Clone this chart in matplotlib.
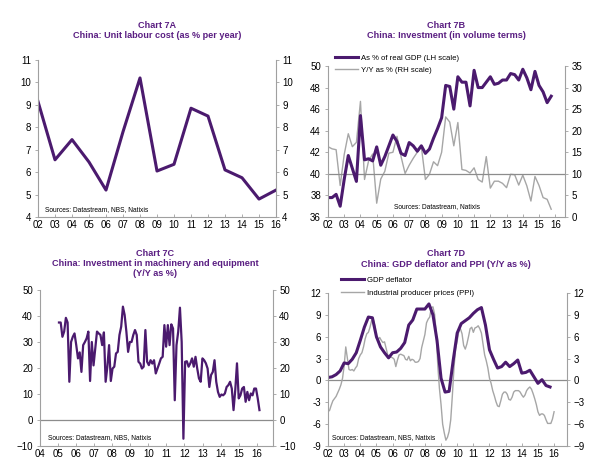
import numpy as np
import matplotlib
matplotlib.use("Agg")
import matplotlib.pyplot as plt

plt.rcParams['font.family'] = ['Liberation Sans', 'DejaVu Sans']

PURPLE = '#4b1a6e'
TITLE_COL = '#5a1e82'
GREY = '#a6a6a6'
SPINE = '#a0a0a0'

# ---------------- data ----------------
# Chart 7A: unit labour cost, annual
ulc_years = list(range(2002, 2017))
ulc_values = [9.15, 6.55, 7.45, 6.45, 5.2, 7.8, 10.2, 6.05, 6.35, 8.85, 8.5, 6.1, 5.75, 4.8, 5.2]

# Chart 7B: investment, quarterly from 2002Q1
inv_start = 2002.0
inv_gdp_share = [37.8, 37.8, 38.1, 37.0, 39.5, 41.7, 40.5, 39.3, 45.4, 41.3, 41.4, 41.2,
                 42.5, 40.8, 41.6, 42.6, 43.6, 43.0, 41.9, 41.7, 42.9, 42.6, 42.1, 42.6,
                 41.9, 42.3, 43.3, 44.2, 45.2, 48.2, 48.1, 46.0, 49.0, 48.5, 48.5, 46.3,
                 49.6, 48.0, 48.0, 48.5, 49.0, 48.3, 48.4, 48.7, 48.7, 49.3, 49.2, 48.7,
                 49.7, 48.9, 47.8, 49.5, 48.2, 47.6, 46.6, 47.2]
inv_yoy = [16.3, 15.8, 15.6, 7.3, 14.5, 19.3, 16.3, 17.3, 26.8, 8.7, 13.0, 14.6,
           3.2, 8.8, 10.6, 14.8, 15.0, 18.7, 14.0, 10.1, 12.0, 13.6, 15.0, 16.3,
           8.7, 9.9, 12.8, 11.9, 15.0, 23.2, 22.0, 16.5, 21.9, 11.0, 10.8, 10.2,
           11.4, 8.7, 8.1, 14.0, 6.7, 8.3, 8.3, 7.8, 6.8, 9.9, 9.8, 7.4,
           9.7, 7.2, 3.7, 9.4, 7.3, 4.5, 4.1, 1.8]

# Chart 7C: investment in machinery and equipment, Y/Y %
mach_first, mach_last = 2005.05, 2016.15
mach_yoy = [37.5, 37.5, 32.0, 34.0, 39.3, 37.5, 14.7, 30.0, 32.0, 33.3, 28.8, 23.7,
            26.0, 18.5, 28.8, 30.0, 31.4, 34.0, 15.0, 30.0, 21.0, 27.5, 34.0, 33.3,
            32.7, 28.8, 33.7, 14.7, 20.5, 28.8, 15.0, 19.8, 20.5, 25.6, 26.2, 32.7,
            35.9, 43.6, 40.4, 34.0, 26.2, 30.0, 30.0, 32.7, 34.6, 32.7, 22.4, 21.7,
            19.8, 20.5, 34.6, 22.4, 21.1, 23.0, 21.7, 23.0, 17.9, 19.8, 21.7, 23.7,
            24.3, 36.5, 28.2, 36.5, 28.8, 36.8, 35.2, 7.6, 28.8, 34.0, 43.2, 30.0,
            -7.2, 22.4, 22.6, 20.5, 21.8, 23.7, 20.5, 24.3, 19.8, 16.0, 14.7, 23.7,
            23.0, 21.8, 19.8, 12.7, 17.3, 18.5, 23.0, 14.7, 10.8, 8.9, 9.8, 9.5,
            10.2, 12.7, 13.4, 14.7, 12.1, 3.8, 11.5, 21.8, 8.3, 9.5, 12.1, 12.7,
            7.0, 10.8, 7.6, 10.2, 9.5, 12.1, 12.1, 8.3, 3.8]

# Chart 7D: GDP deflator (quarterly from 2002Q1) and PPI (from 2002 to 2016)
deflator = [0.4, 0.5, 0.8, 1.3, 2.4, 2.3, 2.9, 3.8, 5.5, 7.3, 8.7, 8.6,
            6.0, 4.6, 3.8, 3.1, 3.8, 3.9, 4.4, 5.2, 7.6, 8.3, 9.8, 9.8,
            9.8, 10.5, 9.0, 5.5, 0.3, -1.6, -1.5, 2.7, 6.5, 7.8, 8.2, 8.6,
            9.2, 9.7, 10.0, 7.6, 4.2, 2.9, 1.7, 1.9, 2.5, 1.9, 2.3, 2.8,
            1.0, 1.1, 1.4, 0.5, -0.4, 0.1, -0.7, -0.9]
ppi_first, ppi_last = 2002.0, 2016.0
ppi = [-4.3, -4.1, -3.4, -2.8, -2.5, -2.2, -1.7, -1.2, -0.6, 0.3,
       2.0, 4.6, 3.0, 1.5, 1.4, 1.5, 1.3, 1.7, 2.0, 3.0,
       3.5, 3.8, 4.6, 5.7, 6.4, 6.6, 7.3, 8.2, 8.4, 7.5,
       5.8, 5.6, 5.9, 5.5, 5.2, 5.3, 4.4, 3.5, 3.2, 3.2,
       3.1, 2.9, 1.9, 2.8, 3.5, 3.6, 3.5, 3.4, 2.9, 2.8,
       3.3, 2.7, 2.9, 2.8, 2.5, 2.5, 2.6, 3.0, 4.5, 5.4,
       6.3, 7.9, 8.4, 8.7, 10.0, 10.1, 9.1, 6.6, 2.0, -1.1,
       -3.3, -6.0, -7.2, -8.2, -7.8, -7.0, -5.4, -2.1, 1.7, 4.3,
       5.4, 6.8, 7.1, 6.4, 4.8, 4.3, 5.0, 6.0, 7.1, 7.3,
       6.6, 7.2, 7.3, 7.5, 7.1, 6.5, 5.0, 3.5, 2.7, 1.7,
       0.3, -0.4, -1.4, -2.1, -2.9, -3.5, -3.6, -2.8, -1.9, -1.6,
       -1.6, -1.9, -2.6, -2.7, -2.3, -1.6, -1.4, -1.4, -1.4, -1.6,
       -2.0, -2.3, -2.0, -1.4, -1.1, -0.9, -1.2, -1.8, -2.5, -3.3,
       -4.3, -4.8, -4.6, -4.6, -4.8, -5.4, -5.9, -5.9, -5.9, -5.3,
       -4.3]

W, H = 600, 471
TICK_FS = 7


def px_axes(fig, left, right, top, bottom):
    return fig.add_axes([left / W, 1 - bottom / H, (right - left) / W, (bottom - top) / H])


def style(ax, years, ylim, ystep, xlim):
    ax.set_xlim(*xlim)
    ax.set_ylim(*ylim)
    ax.set_xticks(years)
    ax.set_xticklabels(['%02d' % (y % 100) for y in years])
    ax.set_yticks(np.arange(ylim[0], ylim[1] + ystep / 2, ystep))
    ax.spines['top'].set_visible(False)
    ax.spines['right'].set_visible(False)
    for s in ('left', 'bottom'):
        ax.spines[s].set_color(SPINE)
        ax.spines[s].set_linewidth(0.8)
    ax.tick_params(axis='both', labelsize=TICK_FS, length=2.5, width=0.6, color=SPINE, pad=2.5)
    ax.tick_params(axis='x', direction='in')
    ax.tick_params(axis='y', direction='out')


def twin(ax, ylim, ystep):
    ax2 = ax.twinx()
    ax2.set_ylim(*ylim)
    ax2.set_yticks(np.arange(ylim[0], ylim[1] + ystep / 2, ystep))
    for s in ('top', 'left', 'bottom'):
        ax2.spines[s].set_visible(False)
    ax2.spines['right'].set_color(SPINE)
    ax2.spines['right'].set_linewidth(0.8)
    ax2.tick_params(axis='y', labelsize=TICK_FS, length=2.5, width=0.6, color=SPINE, pad=2, direction='out')
    return ax2


def title(fig, cx, y, lines):
    for i, t in enumerate(lines):
        fig.text(cx / W, 1 - (y + i * 10.5) / H, t, ha='center', va='center',
                 fontsize=6.6, fontweight='bold', color=TITLE_COL)


def source(fig, x, y, t):
    fig.text(x / W, 1 - y / H, t, ha='left', va='center', fontsize=4.8, color='black')


fig = plt.figure(figsize=(6.0, 4.71), dpi=100)

# ---- Chart 7A ----
ax = px_axes(fig, 38, 276, 60, 217)
style(ax, ulc_years, (4, 11), 1, (2002, 2016))
ax.plot(ulc_years, ulc_values, color=PURPLE, lw=2.2)
twin(ax, (4, 11), 1)
title(fig, 157, 25, ['Chart 7A', 'China: Unit labour cost (as % per year)'])
source(fig, 45, 210, 'Sources: Datastream, NBS, Natixis')

# ---- Chart 7B ----
ax = px_axes(fig, 328, 565, 66, 217)
style(ax, list(range(2002, 2017)), (36, 50), 2, (2002, 2016.6))
xq = inv_start + np.arange(len(inv_gdp_share)) / 4
ax.axhline(40, color='#8c8c8c', lw=0.9, zorder=1)
ax2 = twin(ax, (0, 35), 5)
g, = ax2.plot(xq, inv_yoy, color=GREY, lw=1.0)
ax.set_zorder(ax2.get_zorder() + 1)
ax.patch.set_visible(False)
p, = ax.plot(xq, inv_gdp_share, color=PURPLE, lw=2.2)
ax.legend([p, g], ['As % of real GDP (LH scale)', 'Y/Y as % (RH scale)'],
          loc='upper left', bbox_to_anchor=(0.01, 1.11), frameon=False, fontsize=5.6,
          handlelength=3.0, handletextpad=0.35, labelspacing=0.6, borderaxespad=0.2)
title(fig, 446, 25, ['Chart 7B', 'China: Investment (in volume terms)'])
source(fig, 394, 207, 'Sources: Datastream, Natixis')

# ---- Chart 7C ----
ax = px_axes(fig, 40, 273, 290, 446)
style(ax, list(range(2004, 2017)), (-10, 50), 10, (2004, 2016.9))
ax.axhline(0, color='#8c8c8c', lw=0.9, zorder=1)
xm = np.linspace(mach_first, mach_last, len(mach_yoy))
ax.plot(xm, mach_yoy, color=PURPLE, lw=1.6)
twin(ax, (-10, 50), 10)
title(fig, 155, 253, ['Chart 7C', 'China: Investment in machinery and equipment', '(Y/Y as %)'])
source(fig, 48, 438, 'Sources: Datastream, NBS, Natixis')

# ---- Chart 7D ----
ax = px_axes(fig, 328, 567, 293, 446)
style(ax, list(range(2002, 2017)), (-9, 12), 3, (2002, 2016.8))
ax.axhline(0, color='#8c8c8c', lw=0.9, zorder=1)
ax.set_yticklabels(['%d' % v for v in np.arange(-9, 13, 3)])
xp = np.linspace(ppi_first, ppi_last, len(ppi))
g, = ax.plot(xp, ppi, color=GREY, lw=1.0)
xd = 2002.0 + np.arange(len(deflator)) / 4
p, = ax.plot(xd, deflator, color=PURPLE, lw=2.2)
twin(ax, (-9, 12), 3)
ax.legend([p, g], ['GDP deflator', 'Industrial producer prices (PPI)'],
          loc='upper left', bbox_to_anchor=(0.035, 1.14), frameon=False, fontsize=5.6,
          handlelength=3.0, handletextpad=0.4, labelspacing=0.75, borderaxespad=0.2)
title(fig, 446, 254, ['Chart 7D', 'China: GDP deflator and PPI (Y/Y as %)'])
source(fig, 332, 438, 'Sources: Datastream, NBS, Natixis')

fig.savefig('out.png', dpi=100)
